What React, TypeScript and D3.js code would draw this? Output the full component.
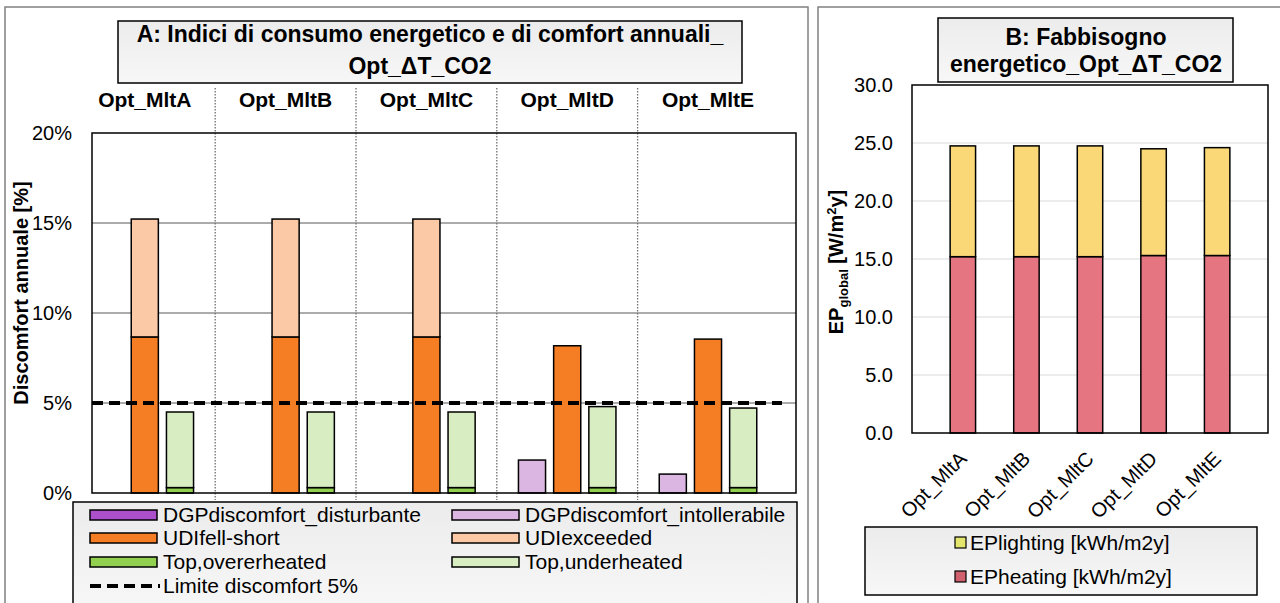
import * as d3 from 'd3';
import React from 'react';

// Panel A data (percent of annual hours)
const groups = ['Opt_MltA', 'Opt_MltB', 'Opt_MltC', 'Opt_MltD', 'Opt_MltE'];
const dgpDisturbante = [0, 0, 0, 0, 0];
const dgpIntollerabile = [0, 0, 0, 1.83, 1.05];
const udiFellShort = [8.67, 8.67, 8.67, 8.18, 8.55];
const udiExceeded = [6.55, 6.55, 6.55, 0, 0];
const topOverheated = [0.3, 0.3, 0.3, 0.3, 0.3];
const topUnderheated = [4.2, 4.2, 4.2, 4.5, 4.42];
const limitDiscomfort = 5;
const yTicksA = [0, 5, 10, 15, 20];

// Panel B data (kWh/m2y)
const epHeating = [15.2, 15.2, 15.2, 15.3, 15.3];
const epLighting = [9.55, 9.55, 9.55, 9.2, 9.3];
const yTicksB = [0, 5, 10, 15, 20, 25, 30];

const FONT = 'Liberation Sans, Arial, Helvetica, sans-serif';

const C = {
  purpleDark: '#ac4fcb',
  purpleLight: '#dcb6e2',
  orange: '#f57d23',
  orangeLight: '#fbc9a6',
  green: '#92d050',
  greenLight: '#d9edc3',
  yellow: '#fbd877',
  heat: '#e57581',
};

function App() {
  // ---------- panel A ----------
  // 4 slots per group: DGP, UDI, Top and an empty slot holding the separator
  const slots: string[] = [];
  groups.forEach((g) => {
    slots.push(g + '|DGP', g + '|UDI', g + '|Top', g + '|sep');
  });
  const xA = d3.scaleBand<string>().domain(slots).range([92, 796]).paddingInner(0.23).paddingOuter(0.115);
  const yA = d3.scaleLinear().domain([0, 20]).range([493, 133]);
  const bw = xA.bandwidth();

  const stacksA = [
    { key: 'DGP', parts: [dgpDisturbante, dgpIntollerabile], colors: [C.purpleDark, C.purpleLight] },
    { key: 'UDI', parts: [udiFellShort, udiExceeded], colors: [C.orange, C.orangeLight] },
    { key: 'Top', parts: [topOverheated, topUnderheated], colors: [C.green, C.greenLight] },
  ];

  const legendA = [
    { label: 'DGPdiscomfort_disturbante', color: C.purpleDark, col: 0, row: 0 },
    { label: 'DGPdiscomfort_intollerabile', color: C.purpleLight, col: 1, row: 0 },
    { label: 'UDIfell-short', color: C.orange, col: 0, row: 1 },
    { label: 'UDIexceeded', color: C.orangeLight, col: 1, row: 1 },
    { label: 'Top,overerheated', color: C.green, col: 0, row: 2 },
    { label: 'Top,underheated', color: C.greenLight, col: 1, row: 2 },
  ];
  const legColX = [90, 452];
  const legRowY = [515, 538, 562, 586];

  // ---------- panel B ----------
  const xB = d3.scaleBand<string>().domain(groups).range([912, 1268]).padding(0.6);
  const yB = d3.scaleLinear().domain([0, 30]).range([433, 85]);
  const bwB = xB.bandwidth();

  return (
    <svg width={1280} height={603} style={{ position: 'absolute', left: 0, top: 0, background: '#fff' }} fontFamily={FONT}>
      <defs>
        <linearGradient id="boxGrad" x1="0" y1="0" x2="0" y2="1">
          <stop offset="0%" stopColor="#ececec" />
          <stop offset="100%" stopColor="#f7f7f7" />
        </linearGradient>
      </defs>

      {/* panel frames */}
      <rect x={5} y={7} width={803} height={600} fill="#fff" stroke="#808080" strokeWidth={1.5} />
      <rect x={818} y={7} width={470} height={600} fill="#fff" stroke="#808080" strokeWidth={1.5} />

      {/* ===== Panel A ===== */}
      <rect x={118} y={21} width={624} height={62} fill="url(#boxGrad)" stroke="#000" strokeWidth={1.5} />
      <text x={430} y={42} textAnchor="middle" fontSize={23} fontWeight="bold">
        A: Indici di consumo energetico e di comfort annuali_
      </text>
      <text x={420} y={74} textAnchor="middle" fontSize={23} fontWeight="bold">
        Opt_ΔT_CO2
      </text>

      {/* gridlines */}
      {yTicksA.slice(1, -1).map((t) => (
        <line key={t} x1={92} x2={796} y1={yA(t)} y2={yA(t)} stroke="#595959" strokeWidth={1} />
      ))}

      {/* group separators */}
      {groups.slice(0, -1).map((g) => {
        const x = (xA(g + '|sep') as number) + bw / 2;
        return <line key={g} x1={x} x2={x} y1={88} y2={500} stroke="#6f6f6f" strokeWidth={1.3} strokeDasharray="1.5 1.5" />;
      })}

      {/* group labels */}
      {groups.map((g) => (
        <text key={g} x={(xA(g + '|UDI') as number) + bw / 2} y={107} textAnchor="middle" fontSize={21} fontWeight="bold">
          {g}
        </text>
      ))}

      {/* bars */}
      {groups.map((g, i) =>
        stacksA.map((s) => {
          let base = 0;
          return s.parts.map((arr, k) => {
            const v = arr[i];
            const y0 = base;
            base += v;
            if (v <= 0) return null;
            return (
              <rect
                key={g + s.key + k}
                x={xA(g + '|' + s.key)}
                y={yA(y0 + v)}
                width={bw}
                height={yA(y0) - yA(y0 + v)}
                fill={s.colors[k]}
                stroke="#000"
                strokeWidth={1.5}
              />
            );
          });
        })
      )}

      {/* limit line */}
      <line x1={92} x2={782} y1={yA(limitDiscomfort)} y2={yA(limitDiscomfort)} stroke="#000" strokeWidth={4} strokeDasharray="11 6" />

      {/* plot frame */}
      <rect x={92} y={133} width={704} height={360} fill="none" stroke="#000" strokeWidth={1.5} />

      {/* y ticks */}
      {yTicksA.map((t) => (
        <text key={t} x={72} y={yA(t) + 7} textAnchor="end" fontSize={20}>
          {t}%
        </text>
      ))}
      <text transform={`translate(28,293) rotate(-90)`} textAnchor="middle" fontSize={20} fontWeight="bold">
        Discomfort annuale [%]
      </text>

      {/* legend A */}
      <rect x={73} y={502} width={724} height={110} fill="url(#boxGrad)" stroke="#000" strokeWidth={1.5} />
      {legendA.map((l) => (
        <g key={l.label}>
          <rect x={legColX[l.col]} y={legRowY[l.row] - 5} width={67} height={10} fill={l.color} stroke="#000" strokeWidth={1.5} />
          <text x={legColX[l.col] + 73} y={legRowY[l.row] + 7} fontSize={21}>
            {l.label}
          </text>
        </g>
      ))}
      <line x1={90} x2={160} y1={legRowY[3]} y2={legRowY[3]} stroke="#000" strokeWidth={4} strokeDasharray="11 6" />
      <text x={163} y={legRowY[3] + 7} fontSize={21}>
        Limite discomfort 5%
      </text>

      {/* ===== Panel B ===== */}
      <rect x={938} y={18} width={295} height={64} fill="url(#boxGrad)" stroke="#000" strokeWidth={1.5} />
      <text x={1086} y={45} textAnchor="middle" fontSize={23} fontWeight="bold">
        B: Fabbisogno
      </text>
      <text x={1086} y={72} textAnchor="middle" fontSize={23} fontWeight="bold">
        energetico_Opt_ΔT_CO2
      </text>

      {yTicksB.slice(1, -1).map((t) => (
        <line key={t} x1={912} x2={1268} y1={yB(t)} y2={yB(t)} stroke="#d9d9d9" strokeWidth={1} />
      ))}

      {groups.map((g, i) => (
        <g key={g}>
          <rect x={xB(g)} y={yB(epHeating[i])} width={bwB} height={yB(0) - yB(epHeating[i])} fill={C.heat} stroke="#000" strokeWidth={1.5} />
          <rect
            x={xB(g)}
            y={yB(epHeating[i] + epLighting[i])}
            width={bwB}
            height={yB(epHeating[i]) - yB(epHeating[i] + epLighting[i])}
            fill={C.yellow}
            stroke="#000"
            strokeWidth={1.5}
          />
        </g>
      ))}

      <rect x={912} y={85} width={356} height={348} fill="none" stroke="#000" strokeWidth={1.5} />

      {yTicksB.map((t) => (
        <text key={t} x={893} y={yB(t) + 7} textAnchor="end" fontSize={20}>
          {t.toFixed(1)}
        </text>
      ))}
      <text transform={`translate(843,262) rotate(-90)`} textAnchor="middle" fontSize={20} fontWeight="bold">
        EP<tspan fontSize={13} dy={5}>global</tspan>
        <tspan dy={-5}> [W/m</tspan>
        <tspan fontSize={13} dy={-7}>2</tspan>
        <tspan dy={7}>y]</tspan>
      </text>

      {groups.map((g) => (
        <text
          key={g}
          transform={`translate(${(xB(g) as number) + bwB / 2 + 5},${460}) rotate(-45)`}
          textAnchor="end"
          fontSize={20}
        >
          {g}
        </text>
      ))}

      {/* legend B */}
      <rect x={865} y={527} width={392} height={68} fill="url(#boxGrad)" stroke="#000" strokeWidth={1.5} />
      {[
        { label: 'EPlighting [kWh/m2y]', color: '#e3e56c', y: 543 },
        { label: 'EPheating [kWh/m2y]', color: '#d0606e', y: 577 },
      ].map((l) => (
        <g key={l.label}>
          <rect x={955} y={l.y - 6} width={11} height={11} fill={l.color} stroke="#000" strokeWidth={1.2} />
          <text x={970} y={l.y + 7} fontSize={21}>
            {l.label}
          </text>
        </g>
      ))}
    </svg>
  );
}

export default App;
